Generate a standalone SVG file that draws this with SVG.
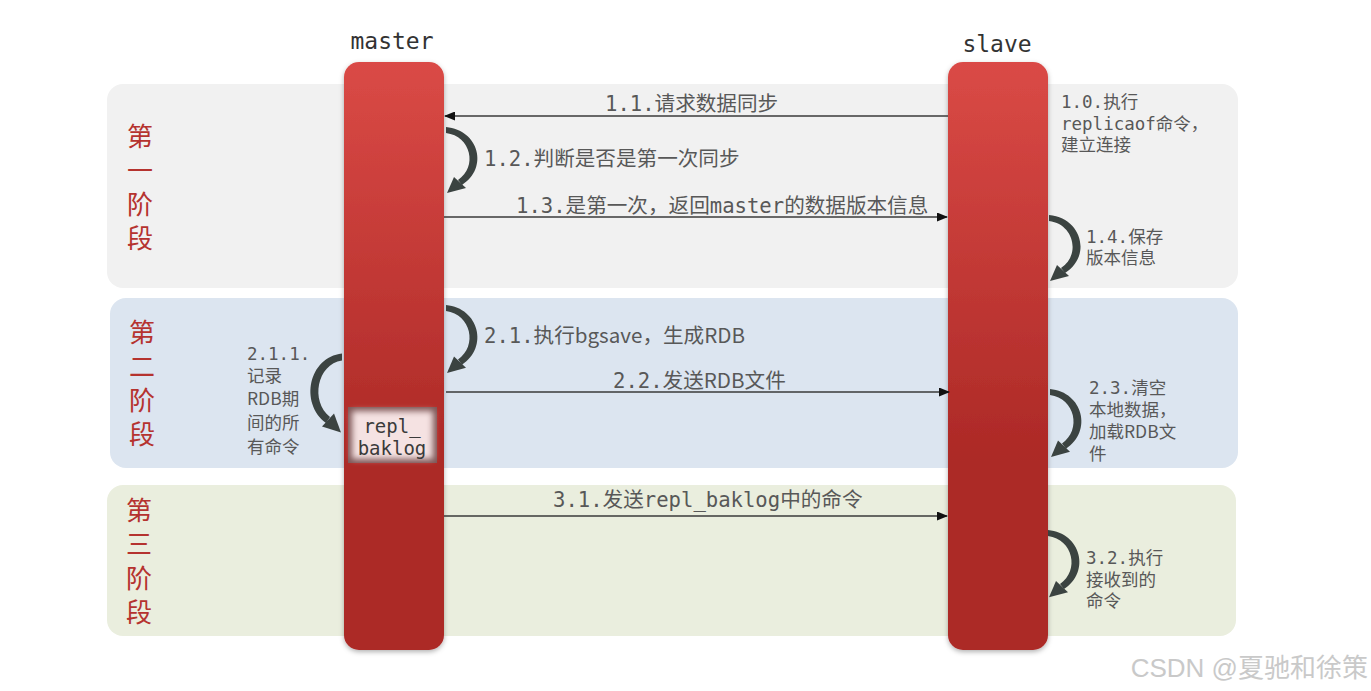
<svg xmlns="http://www.w3.org/2000/svg" xmlns:xlink="http://www.w3.org/1999/xlink" width="1371" height="691" viewBox="0 0 1371 691">
<style>
.panel{stroke:none}
.stage{font-family:"Noto Sans CJK SC","Noto Sans",sans-serif;font-size:26px;fill:#b5332f;writing-mode:vertical-rl;letter-spacing:8px}
.head{font-family:"DejaVu Sans Mono","Liberation Mono",monospace;font-size:23px;fill:#333;text-anchor:middle}
.lbl{font-family:"DejaVu Sans Mono","Noto Sans CJK SC",monospace;font-size:20.6px;fill:#585858}
.sm{font-family:"DejaVu Sans Mono","Noto Sans CJK SC",monospace;font-size:17.5px;fill:#585858}
.sans{font-family:"Noto Sans CJK SC","Noto Sans",sans-serif}
.line{stroke:#3a3a3a;stroke-width:1.5;fill:none}
.loop{fill:#3b4341}
.wm{font-family:"Liberation Sans","Noto Sans CJK SC",sans-serif;font-size:26px;fill:#c9c9c9;text-anchor:end}
</style>
<defs>
<linearGradient id="barg" x1="0" y1="0" x2="0" y2="1">
<stop offset="0" stop-color="#da4a46"/>
<stop offset="0.68" stop-color="#ac2926"/>
<stop offset="1" stop-color="#ac2926"/>
</linearGradient>
<filter id="sh" x="-20%" y="-5%" width="140%" height="110%">
<feDropShadow dx="0" dy="2" stdDeviation="2.5" flood-color="#000" flood-opacity="0.3"/>
</filter>
<filter id="blur" x="-20%" y="-20%" width="140%" height="140%">
<feGaussianBlur stdDeviation="3"/>
</filter>
<marker id="ah" markerUnits="userSpaceOnUse" markerWidth="11" markerHeight="9" refX="10" refY="4.5" orient="auto">
<path d="M0,0 L11,4.5 L0,9 z" fill="#111"/>
</marker>
<g id="loop">
<path class="loop" d="M0,-3 C33,0 43,38 16,55 L12,50 C32,37 25,6 0,3 Z"/>
<polygon class="loop" points="1,63 8,47 20,58"/>
</g>
</defs>
<rect width="1371" height="691" fill="#fff"/>

<g id="panel1"><rect class="panel" x="107" y="84" width="1131" height="204" rx="16" fill="#f1f1f1"/></g>
<g id="panel2"><rect class="panel" x="110" y="298" width="1128" height="170" rx="16" fill="#dce5f0"/></g>
<g id="panel3"><rect class="panel" x="107" y="485" width="1129" height="151" rx="16" fill="#eaeede"/></g>

<g id="stage1"><text class="stage" x="140" y="123">第一阶段</text></g>
<g id="stage2"><text class="stage" x="142" y="319">第二阶段</text></g>
<g id="stage3"><text class="stage" x="139" y="497">第三阶段</text></g>

<g id="master">
<text class="head" x="392" y="49">master</text>
<rect x="344" y="62" width="100" height="588" rx="15" fill="url(#barg)" filter="url(#sh)"/>
</g>
<g id="slave">
<text class="head" x="997" y="52">slave</text>
<rect x="948" y="62" width="100" height="588" rx="15" fill="url(#barg)" filter="url(#sh)"/>
</g>

<g id="repl_baklog">
<rect x="348" y="407" width="89" height="56" fill="#7e5656"/>
<rect x="352" y="411" width="81" height="48" fill="#f5e2e2" filter="url(#blur)"/>
<text class="head" style="font-size:19px;fill:#3a3a3a" x="392" y="433">repl_</text>
<text class="head" style="font-size:19px;fill:#3a3a3a" x="392" y="455">baklog</text>
</g>

<g id="connectors">
<path class="line" d="M948,116 L445,116" marker-end="url(#ah)"/>
<path class="line" d="M444,217 L947,217" marker-end="url(#ah)"/>
<path class="line" d="M446,392 L949,392" marker-end="url(#ah)"/>
<path class="line" d="M444,516 L947,516" marker-end="url(#ah)"/>
<use xlink:href="#loop" transform="translate(446,130)"/>
<use xlink:href="#loop" transform="translate(1049,218)"/>
<use xlink:href="#loop" transform="translate(446,308) scale(1,1.03)"/>
<use xlink:href="#loop" transform="translate(1050,392) scale(1,1.03)"/>
<use xlink:href="#loop" transform="translate(1048,533) scale(1,1.02)"/>
<use xlink:href="#loop" transform="translate(342,357) scale(-1,1.2)"/>
</g>

<g id="labels">
<text class="lbl" x="605" y="111">1.1.请求数据同步</text>
<text class="lbl" x="484" y="166">1.2.判断是否是第一次同步</text>
<text class="lbl" x="516" y="213">1.3.是第一次，返回master的数据版本信息</text>
<text class="lbl" x="484" y="343">2.1.执行<tspan class="sans">bgsave</tspan>，生成<tspan class="sans">RDB</tspan></text>
<text class="lbl" x="613" y="388">2.2.发送<tspan class="sans">RDB</tspan>文件</text>
<text class="lbl" x="553" y="507">3.1.发送repl_baklog中的命令</text>

<text class="sm" x="1061" y="108">1.0.执行</text>
<text class="sm" x="1061" y="130">replicaof命令，</text>
<text class="sm" x="1061" y="151">建立连接</text>

<text class="sm" x="1086" y="243">1.4.保存</text>
<text class="sm" x="1086" y="264">版本信息</text>

<text class="sm" x="247" y="360">2.1.1.</text>
<text class="sm" x="247" y="382">记录</text>
<text class="sm" x="247" y="405"><tspan class="sans">RDB</tspan>期</text>
<text class="sm" x="247" y="429">间的所</text>
<text class="sm" x="247" y="453">有命令</text>

<text class="sm" x="1089" y="394">2.3.清空</text>
<text class="sm" x="1089" y="416">本地数据，</text>
<text class="sm" x="1089" y="438">加载<tspan class="sans">RDB</tspan>文</text>
<text class="sm" x="1089" y="460">件</text>

<text class="sm" x="1086" y="564">3.2.执行</text>
<text class="sm" x="1086" y="586">接收到的</text>
<text class="sm" x="1086" y="607">命令</text>
</g>

<text class="wm" x="1368" y="677">CSDN @夏驰和徐策</text>
</svg>
